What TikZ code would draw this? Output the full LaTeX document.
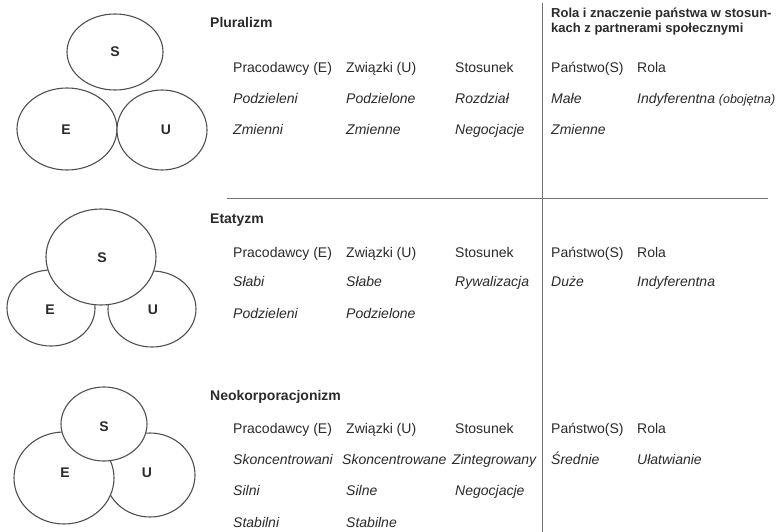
\documentclass[tikz,border=0pt]{standalone}
\usepackage{fontspec}
\setmainfont{Liberation Sans}
\definecolor{ink}{HTML}{2A2A2A}
\definecolor{edge}{HTML}{505050}
\tikzset{
  txt/.style={anchor=base west, inner sep=0pt, text=ink, font=\fontsize{14}{16}\selectfont},
  val/.style={txt, font=\fontsize{14}{16}\selectfont\itshape},
  ttl/.style={txt, font=\fontsize{14}{16}\selectfont\bfseries},
  hdr/.style={txt, font=\fontsize{13}{15}\selectfont\bfseries},
  lbl/.style={inner sep=0pt, text=ink, font=\fontsize{14}{16}\selectfont\bfseries},
  oval/.style={draw=edge, fill=white, line width=1.1pt},
  rule/.style={draw=edge!80, line width=0.9pt}
}
\begin{document}
\begin{tikzpicture}[x=1pt,y=-1pt]
\useasboundingbox (0,0) rectangle (778,532);
%\draw[step=50,gray,very thin] (0,0) grid (778,532); %background grid
%separating lines
\draw[rule] (542,3) -- (542,532);
\draw[rule] (227,198) -- (768,198);
%pluralizm circles
\draw[oval] (115,52) ellipse (48 and 38);
\draw[oval] (67,129) ellipse (50 and 41);
\draw[oval] (162,130) ellipse (45 and 40);
\node[lbl] (s1) at (115,52) {S};
\node[lbl] (e1) at (66,130) {E};
\node[lbl] (u1) at (166,130) {U};
%etatyzm circles
\draw[oval] (51,308) ellipse (44 and 38);
\draw[oval] (152,309) ellipse (44 and 38);
\draw[oval] (101,257) ellipse (55 and 48);
\node[lbl] (s2) at (102,258) {S};
\node[lbl] (e2) at (50,310) {E};
\node[lbl] (u2) at (153,310) {U};
%neokorporacjonizm circles
\draw[oval] (150,475) ellipse (45 and 42);
\draw[oval] (64,478) ellipse (50 and 46);
\draw[oval] (104,424) ellipse (43 and 37);
\node[lbl] (s3) at (104,427) {S};
\node[lbl] (e3) at (65,473) {E};
\node[lbl] (u3) at (147,473) {U};
%pluralizm
\node[ttl] (plu) at (210,28) {Pluralizm};
\node[txt] (plu-e) at (233,73) {Pracodawcy (E)};
\node[txt] (plu-u) at (346,73) {Związki (U)};
\node[txt] (plu-r) at (455,73) {Stosunek};
\node[val] (plu-e1) at (233,104) {Podzieleni};
\node[val] (plu-u1) at (346,104) {Podzielone};
\node[val] (plu-r1) at (455,104) {Rozdział};
\node[val] (plu-e2) at (233,135) {Zmienni};
\node[val] (plu-u2) at (346,135) {Zmienne};
\node[val] (plu-r2) at (455,135) {Negocjacje};
\node[hdr] (rola1) at (551,18) {Rola i znaczenie państwa w stosun-};
\node[hdr] (rola2) at (551,33) {kach z partnerami społecznymi};
\node[txt] (plu-s) at (551,73) {Państwo(S)};
\node[txt] (plu-o) at (637,73) {Rola};
\node[val] (plu-s1) at (551,104) {Małe};
\node[val] (plu-o1) at (637,104) {Indyferentna {\fontsize{12.5}{15}\selectfont(obojętna)}};
\node[val] (plu-s2) at (551,135) {Zmienne};
%etatyzm
\node[ttl] (eta) at (210,223) {Etatyzm};
\node[txt] (eta-e) at (233,257) {Pracodawcy (E)};
\node[txt] (eta-u) at (346,257) {Związki (U)};
\node[txt] (eta-r) at (455,257) {Stosunek};
\node[val] (eta-e1) at (233,286) {Słabi};
\node[val] (eta-u1) at (346,286) {Słabe};
\node[val] (eta-r1) at (455,286) {Rywalizacja};
\node[val] (eta-e2) at (233,318) {Podzieleni};
\node[val] (eta-u2) at (346,318) {Podzielone};
\node[txt] (eta-s) at (551,257) {Państwo(S)};
\node[txt] (eta-o) at (637,257) {Rola};
\node[val] (eta-s1) at (551,286) {Duże};
\node[val] (eta-o1) at (637,286) {Indyferentna};
%neokorporacjonizm
\node[ttl] (neo) at (210,400) {Neokorporacjonizm};
\node[txt] (neo-e) at (233,433) {Pracodawcy (E)};
\node[txt] (neo-u) at (346,433) {Związki (U)};
\node[txt] (neo-r) at (455,433) {Stosunek};
\node[val] (neo-e1) at (233,464) {Skoncentrowani};
\node[val] (neo-u1) at (342,464) {Skoncentrowane};
\node[val] (neo-r1) at (452,464) {Zintegrowany};
\node[val] (neo-e2) at (233,495) {Silni};
\node[val] (neo-u2) at (346,495) {Silne};
\node[val] (neo-r2) at (455,495) {Negocjacje};
\node[val] (neo-e3) at (233,527) {Stabilni};
\node[val] (neo-u3) at (346,527) {Stabilne};
\node[txt] (neo-s) at (551,433) {Państwo(S)};
\node[txt] (neo-o) at (637,433) {Rola};
\node[val] (neo-s1) at (551,464) {Średnie};
\node[val] (neo-o1) at (637,464) {Ułatwianie};
\end{tikzpicture}
\end{document}
